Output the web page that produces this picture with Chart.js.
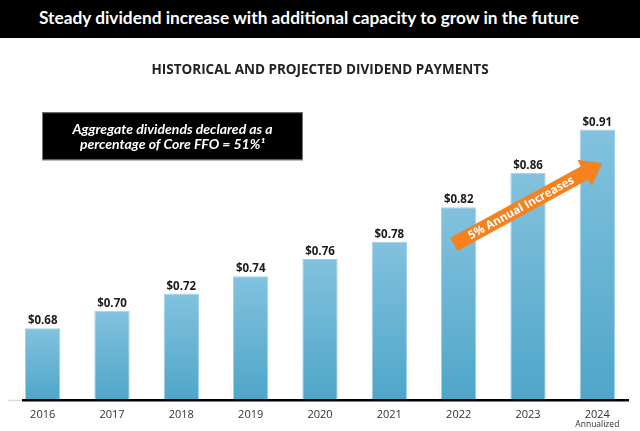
<!DOCTYPE html>
<html>
<head>
<meta charset="utf-8">
<script src="https://cdn.jsdelivr.net/npm/chart.js@4.4.1/dist/chart.umd.min.js"></script>
<style>
    html, body { margin: 0; padding: 0; background: #fff; }
    #header {
        width: 640px; height: 38px; background: #000; color: #fff;
        font-family: Lato, sans-serif; font-weight: bold; font-size: 17.3px;
        line-height: 36px; box-sizing: border-box; padding-left: 39px;
        white-space: nowrap; overflow: hidden;
    }
    #wrap { position: relative; width: 640px; height: 393px; }
</style>
</head>
<body>
<div id="header">Steady dividend increase with additional capacity to grow in the future</div>
<div id="wrap"><canvas id="myChart"></canvas></div>
<script>
// data
const years = ['2016', '2017', '2018', '2019', '2020', '2021', '2022', '2023', '2024'];
const dividends = [0.68, 0.70, 0.72, 0.74, 0.76, 0.78, 0.82, 0.86, 0.91];
const priceLabels = ['$0.68', '$0.70', '$0.72', '$0.74', '$0.76', '$0.78', '$0.82', '$0.86', '$0.91'];
const yRange = [0.597, 0.944];

// annotations (in data units: category index, dividend)
const arrowFrom = [5.93, 0.777];
const arrowTo = [8.07, 0.871];
const arrowText = '5% Annual Increases';
const boxLines = ['Aggregate dividends declared as a', 'percentage of Core FFO = 51%\u00b9'];
const footnoteLabel = 'Annualized';

function barGradient(context) {
    const chart = context.chart;
    const area = chart.chartArea;
    if (!area || context.raw === undefined) return '#6cb4d4';
    const y = chart.scales.y;
    const top = y.getPixelForValue(context.raw);
    const g = chart.ctx.createLinearGradient(0, top, 0, area.bottom);
    g.addColorStop(0, '#82c2de');
    g.addColorStop(1, '#4fa6c9');
    return g;
}

const extras = {
    id: 'extras',
    afterDatasetsDraw(chart) {
        const ctx = chart.ctx;
        const area = chart.chartArea;
        const x = chart.scales.x;
        const y = chart.scales.y;
        const meta = chart.getDatasetMeta(0);

        // value labels
        ctx.save();
        ctx.fillStyle = '#1a1a1a';
        ctx.font = 'bold 11.5px "Open Sans"';
        ctx.textAlign = 'center';
        ctx.textBaseline = 'alphabetic';
        meta.data.forEach(function (bar, i) {
            ctx.fillText(priceLabels[i], bar.x, bar.y - 4);
        });
        ctx.restore();

        // base line
        ctx.save();
        ctx.strokeStyle = '#d0d0d0';
        ctx.lineWidth = 1;
        ctx.beginPath();
        ctx.moveTo(area.left, area.bottom + 0.5);
        ctx.lineTo(area.left + 14, area.bottom + 0.5);
        ctx.stroke();
        ctx.strokeStyle = '#000';
        ctx.lineWidth = 2.5;
        ctx.beginPath();
        ctx.moveTo(area.left + 14, area.bottom + 0.5);
        ctx.lineTo(area.right - 3, area.bottom + 0.5);
        ctx.stroke();
        ctx.restore();

        // "Annualized" under last year
        ctx.save();
        ctx.fillStyle = '#333';
        ctx.font = '8.5px "Open Sans"';
        ctx.textAlign = 'center';
        ctx.textBaseline = 'middle';
        ctx.fillText(footnoteLabel, x.getPixelForValue(years.length - 1), area.bottom + 25);
        ctx.restore();

        // black info box
        ctx.save();
        const bx = area.left + 34, by = area.top + 12, bw = 261, bh = 48;
        ctx.fillStyle = '#000';
        ctx.fillRect(bx, by, bw, bh);
        ctx.strokeStyle = '#777';
        ctx.lineWidth = 1;
        ctx.strokeRect(bx + 0.5, by + 0.5, bw - 1, bh - 1);
        ctx.fillStyle = '#fff';
        ctx.font = 'italic bold 14px Lato';
        ctx.textAlign = 'center';
        ctx.textBaseline = 'middle';
        ctx.fillText(boxLines[0], bx + bw / 2, by + 17);
        ctx.fillText(boxLines[1], bx + bw / 2, by + 32);
        ctx.restore();

        // orange arrow
        const x0 = x.getPixelForValue(arrowFrom[0]), y0 = y.getPixelForValue(arrowFrom[1]);
        const x1 = x.getPixelForValue(arrowTo[0]), y1 = y.getPixelForValue(arrowTo[1]);
        const ang = Math.atan2(y1 - y0, x1 - x0);
        const len = Math.hypot(x1 - x0, y1 - y0);
        const hw = 7.5, headLen = 20, headHw = 15;
        ctx.save();
        ctx.translate(x0, y0);
        ctx.rotate(ang);
        ctx.fillStyle = '#f5821f';
        ctx.beginPath();
        ctx.moveTo(0, -hw);
        ctx.lineTo(len - headLen, -hw);
        ctx.lineTo(len - headLen, -headHw);
        ctx.lineTo(len, 0);
        ctx.lineTo(len - headLen, headHw);
        ctx.lineTo(len - headLen, hw);
        ctx.lineTo(0, hw);
        ctx.closePath();
        ctx.fill();
        ctx.fillStyle = '#fff';
        ctx.font = 'bold 11.5px "Open Sans"';
        ctx.textAlign = 'center';
        ctx.textBaseline = 'middle';
        ctx.fillText(arrowText, (len - headLen) / 2 + 2, 0.5);
        ctx.restore();
    }
};

const ctx = document.getElementById('myChart').getContext('2d');
const myChart = new Chart(ctx, {
    type: 'bar',
    data: {
        labels: years,
        datasets: [{
            label: 'Dividend',
            data: dividends,
            backgroundColor: barGradient,
            borderColor: '#a3d2e8',
            borderWidth: 1,
            borderSkipped: 'bottom',
            barPercentage: 0.51,
            categoryPercentage: 1
        }]
    },
    options: {
        responsive: true,
        maintainAspectRatio: false,
        animation: false,
        devicePixelRatio: 1,
        layout: {
            padding: { left: 8, right: 8, top: 0, bottom: 2 }
        },
        plugins: {
            legend: { display: false },
            tooltip: { enabled: false },
            title: {
                display: true,
                text: 'HISTORICAL AND PROJECTED DIVIDEND PAYMENTS',
                color: '#222',
                font: { family: '"Open Sans"', size: 13.5, weight: 'bold' },
                padding: { top: 24, bottom: 22 }
            }
        },
        scales: {
            x: {
                grid: { display: false, drawTicks: false },
                border: { display: false },
                ticks: {
                    color: '#333',
                    font: { family: '"Open Sans"', size: 11 },
                    padding: 8
                }
            },
            y: {
                display: false,
                min: yRange[0],
                max: yRange[1]
            }
        }
    },
    plugins: [extras]
});
</script>
</body>
</html>
